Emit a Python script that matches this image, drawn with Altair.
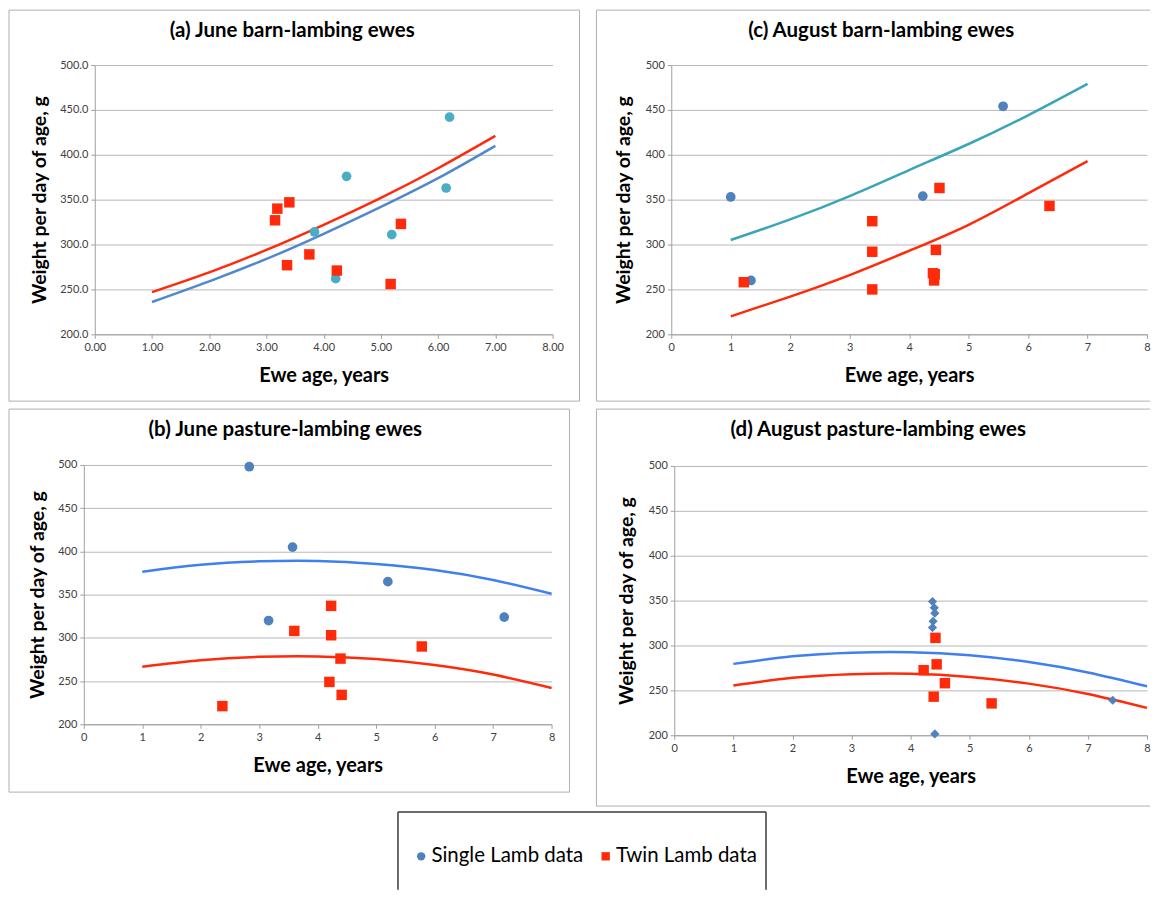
import altair as alt
import pandas as pd

# ---------------- values ----------------
series_names = ["Single Lamb data", "Twin Lamb data"]
x_ticks = [0, 1, 2, 3, 4, 5, 6, 7, 8]
y_ticks = [200, 250, 300, 350, 400, 450, 500]

# (a) June barn-lambing ewes
a_single_age = [3.84, 4.21, 4.40, 5.19, 6.14, 6.20]
a_single_wt = [314, 262, 376, 311, 363, 442]
a_twin_age = [3.15, 3.19, 3.36, 3.40, 3.75, 4.23, 5.17, 5.35]
a_twin_wt = [327, 340, 277, 347, 289, 271, 256, 323]
a_fit_age = [1, 2, 3, 4, 5, 6, 7]
a_fit_single = [236, 259, 284, 312, 342, 374, 410]
a_fit_twin = [247, 269, 294, 322, 352, 385, 421]

# (b) June pasture-lambing ewes
b_single_age = [2.83, 3.16, 3.57, 5.20, 7.19]
b_single_wt = [498, 320, 405, 365, 324]
b_twin_age = [2.37, 3.60, 4.23, 4.23, 4.39, 4.20, 4.41, 5.78]
b_twin_wt = [221, 308, 337, 303, 276, 249, 234, 290]
b_fit_age = [1, 2, 3, 4, 5, 6, 7, 8]
b_fit_single = [376.5, 384.5, 388.5, 389, 385.5, 378.5, 367, 351]
b_fit_twin = [266.5, 274, 278, 278.5, 275.5, 268.5, 257.5, 242]

# (c) August barn-lambing ewes
c_single_age = [1.00, 1.34, 4.23, 5.58]
c_single_wt = [353, 260, 354, 454]
c_twin_age = [1.22, 3.38, 3.38, 3.38, 4.40, 4.43, 4.42, 4.45, 4.51, 6.36]
c_twin_wt = [258, 326, 292, 250, 268, 267, 260, 294, 363, 343]
c_fit_age = [1, 2, 3, 4, 5, 6, 7]
c_fit_single = [305, 328, 354, 383, 412, 444, 479]
c_fit_twin = [220, 242, 266, 293, 322, 357, 393]

# (d) August pasture-lambing ewes
d_single_age = [4.37, 4.40, 4.41, 4.38, 4.37, 4.41, 7.42]
d_single_wt = [349, 342, 336, 327, 320, 201.5, 239]
d_twin_age = [4.42, 4.22, 4.44, 4.58, 4.39, 5.37]
d_twin_wt = [308.5, 272.5, 279, 258, 243, 235.5]
d_fit_age = [1, 2, 3, 4, 5, 6, 7, 8]
d_fit_single = [279.5, 288, 292, 292.5, 289, 281.5, 270, 254.5]
d_fit_twin = [255.5, 264, 268, 268.5, 265, 257.5, 246, 230.5]

# ---------------- styling ----------------
FONT = "Lato"
RED = "#FF2A0A"
BLUE_PT = "#4F81BD"
TEAL_PT = "#4BACC6"
FRAME = "#B0B0B0"
AXIS_C = "#A0A0A0"
GRID_C = "#B8B8B8"
one = pd.DataFrame({"k": [0]})

legend_obj = alt.Legend(
    title=None, orient="none", legendX=403, legendY=838, direction="horizontal",
    labelFont=FONT, labelFontSize=20.5, labelColor="black", symbolSize=70,
    symbolStrokeWidth=0, labelOffset=0, columnPadding=12, padding=0,
)


def hrule(x0, x1, y, color=FRAME, sw=1):
    return alt.Chart(one).mark_rule(color=color, strokeWidth=sw).encode(
        x=alt.value(x0), x2=alt.value(x1), y=alt.value(y))


def vrule(x, y0, y1, color=FRAME, sw=1):
    return alt.Chart(one).mark_rule(color=color, strokeWidth=sw).encode(
        x=alt.value(x), y=alt.value(y0), y2=alt.value(y1))


def panel(title, dx, s_age, s_wt, t_age, t_wt, f_age, f_single, f_twin,
          w, h, xr, yr, xfmt, yfmt, s_color, s_shape, s_size, line_s_color,
          right_border=True, legend_here=False, extra=None, ytp=10):
    xenc = alt.X("age:Q",
                 scale=alt.Scale(domain=[0, 8], range=xr, nice=False, zero=False),
                 axis=alt.Axis(values=x_ticks, format=xfmt, title="Ewe age, years",
                               offset=-(h - yr[0]), grid=False, labelFlush=False,
                               labelOverlap=False,
                               domainColor=AXIS_C, tickColor=AXIS_C, tickSize=4,
                               labelFont=FONT, labelFontSize=11, labelColor="#404040",
                               labelPadding=3, titleFont=FONT, titleFontSize=20,
                               titleFontWeight="bold", titleColor="black",
                               titlePadding=13))
    yenc = alt.Y("wt:Q",
                 scale=alt.Scale(domain=[200, 500], range=yr, nice=False, zero=False),
                 axis=alt.Axis(values=y_ticks, format=yfmt,
                               title="Weight per day of age, g",
                               offset=-xr[0], grid=True, gridColor=GRID_C,
                               labelOverlap=False,
                               domainColor=AXIS_C, tickColor=AXIS_C, tickSize=4,
                               labelFont=FONT, labelFontSize=11, labelColor="#404040",
                               labelPadding=3, titleFont=FONT, titleFontSize=19.5,
                               titleFontWeight="bold", titleColor="black",
                               titlePadding=ytp))

    fit_df = pd.DataFrame({"age": f_age, "single": f_single, "twin": f_twin})
    s_df = pd.DataFrame({"age": s_age, "wt": s_wt, "series": series_names[0]})
    t_df = pd.DataFrame({"age": t_age, "wt": t_wt, "series": series_names[1]})

    line_s = alt.Chart(fit_df).transform_calculate(wt="datum.single").mark_line(
        color=line_s_color, strokeWidth=2.5, interpolate="natural").encode(x=xenc, y=yenc)
    line_t = alt.Chart(fit_df).transform_calculate(wt="datum.twin").mark_line(
        color=RED, strokeWidth=2.5, interpolate="natural").encode(x=xenc, y=yenc)

    if legend_here:
        cenc = alt.Color("series:N", scale=alt.Scale(domain=series_names,
                                                     range=[BLUE_PT, RED]), legend=legend_obj)
        shenc = alt.Shape("series:N", scale=alt.Scale(domain=series_names,
                                                      range=["circle", "square"]), legend=legend_obj)
        pts_s = alt.Chart(s_df).mark_point(filled=True, opacity=1, size=s_size).encode(
            x=xenc, y=yenc, color=cenc, shape=shenc)
        pts_t = alt.Chart(t_df).mark_point(filled=True, opacity=1, size=110).encode(
            x=xenc, y=yenc, color=cenc, shape=shenc)
    else:
        pts_s = alt.Chart(s_df).mark_point(filled=True, opacity=1, size=s_size,
                                           color=s_color, shape=s_shape).encode(x=xenc, y=yenc)
        pts_t = alt.Chart(t_df).mark_point(filled=True, opacity=1, size=110,
                                           color=RED, shape="square").encode(x=xenc, y=yenc)

    frame = [hrule(0, w, 0), hrule(0, w, h), vrule(0, 0, h)]
    if right_border:
        frame.append(vrule(w, 0, h))
    layers = frame + [line_s, line_t, pts_s, pts_t] + (extra or [])
    return alt.layer(*layers).properties(
        width=w, height=h,
        title=alt.TitleParams(title, font=FONT, fontSize=20.5, fontWeight="bold",
                              color="black", anchor="middle", frame="group",
                              offset=-42, baseline="middle", dx=dx))


pa = panel("(a) June barn-lambing ewes", -2, a_single_age, a_single_wt, a_twin_age, a_twin_wt,
           a_fit_age, a_fit_single, a_fit_twin, 572, 392, [86, 545], [325, 55],
           ".2f", ".1f", TEAL_PT, "circle", 95, "#4F88CC", ytp=10)
pc = panel("(c) August barn-lambing ewes", 8, c_single_age, c_single_wt, c_twin_age, c_twin_wt,
           c_fit_age, c_fit_single, c_fit_twin, 555, 392, [75, 552], [325, 55],
           "d", "d", BLUE_PT, "circle", 95, "#3AA5B9", right_border=False, ytp=12)
pb = panel("(b) June pasture-lambing ewes", -4, b_single_age, b_single_wt, b_twin_age, b_twin_wt,
           b_fit_age, b_fit_single, b_fit_twin, 562, 384, [75, 544], [316, 56],
           "d", "d", BLUE_PT, "circle", 95, "#3F7FEF", legend_here=True, ytp=10)
legend_box = [hrule(-199, 170, 404, "#3A3A3A", 1.5), vrule(-199, 404, 482, "#3A3A3A", 1.5),
              vrule(170, 404, 482, "#3A3A3A", 1.5)]
pdd = panel("(d) August pasture-lambing ewes", 5, d_single_age, d_single_wt, d_twin_age, d_twin_wt,
            d_fit_age, d_fit_single, d_fit_twin, 555, 398, [78, 552], [327, 57],
            "d", "d", BLUE_PT, "diamond", 85, "#3F7FEF", right_border=False,
            extra=legend_box, ytp=12)

row1 = alt.hconcat(pa, pc, spacing=17, bounds="flush")
row2 = alt.hconcat(pb, pdd, spacing=27, bounds="flush")
chart = alt.vconcat(row1, row2, spacing=6).properties(
    padding=0, background="white").configure_view(stroke="transparent")

chart.save("out.html", embed_options={"renderer": "svg", "actions": False})
